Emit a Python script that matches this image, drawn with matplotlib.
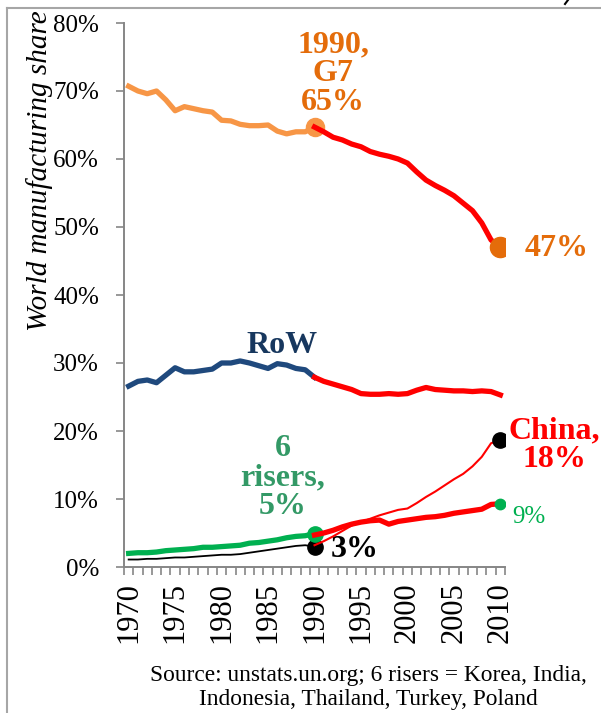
import numpy as np
import matplotlib
matplotlib.use("Agg")
import matplotlib.pyplot as plt
from matplotlib.lines import Line2D

# Data (share of world manufacturing, %)
years_pre = list(range(1970, 1991))
years_post = list(range(1990, 2011))

g7_pre = [70.7, 70.0, 69.6, 70.0, 68.7, 67.1, 67.7, 67.4, 67.1, 66.9, 65.7,
          65.6, 65.1, 64.9, 64.9, 65.0, 64.1, 63.7, 64.0, 64.0, 64.7]
g7_post = [64.7, 64.0, 63.2, 62.8, 62.2, 61.8, 61.1, 60.7, 60.4, 60.0, 59.4,
           58.1, 56.9, 56.1, 55.4, 54.6, 53.5, 52.4, 50.6, 48.1, 47.0]

row_pre = [26.6, 27.3, 27.5, 27.1, 28.2, 29.3, 28.7, 28.7, 28.9, 29.1, 30.0,
           30.0, 30.3, 30.0, 29.6, 29.2, 29.9, 29.7, 29.2, 29.0, 27.9]
row_post = [27.9, 27.3, 26.9, 26.5, 26.1, 25.5, 25.4, 25.4, 25.5, 25.4, 25.5,
            26.0, 26.4, 26.1, 26.0, 25.9, 25.9, 25.8, 25.9, 25.8, 25.3]

risers_pre = [2.0, 2.1, 2.1, 2.2, 2.4, 2.5, 2.6, 2.7, 2.9, 2.9, 3.0,
              3.1, 3.2, 3.5, 3.6, 3.8, 4.0, 4.3, 4.5, 4.6, 4.9]
risers_post = [4.7, 5.0, 5.4, 5.9, 6.3, 6.6, 6.8, 6.9, 6.3, 6.7, 6.9,
               7.1, 7.3, 7.4, 7.6, 7.9, 8.1, 8.3, 8.5, 9.2, 9.3]

china_pre = [1.1, 1.1, 1.2, 1.2, 1.3, 1.4, 1.4, 1.5, 1.6, 1.7, 1.8,
             1.8, 1.9, 2.1, 2.3, 2.5, 2.7, 2.9, 3.1, 3.2, 3.0]
china_post = [3.2, 3.8, 4.5, 5.3, 6.1, 6.6, 7.1, 7.6, 8.0, 8.4, 8.6,
              9.4, 10.3, 11.1, 12.0, 12.9, 13.7, 14.8, 16.2, 18.2, 18.7]

yticks = [0, 10, 20, 30, 40, 50, 60, 70, 80]
xticks = list(range(1970, 2011, 5))

# Colours
ORANGE_LINE = "#F79646"
ORANGE_TXT = "#E46C0A"
NAVY_LINE = "#1F497D"
NAVY_TXT = "#17375E"
GREEN_LINE = "#00B050"
GREEN_TXT = "#339966"
RED = "#FF0000"
GRAY = "#868686"

plt.rcParams['font.family'] = ['Liberation Serif', 'DejaVu Serif']

fig = plt.figure(figsize=(6.01, 7.13), dpi=100)
ax = fig.add_axes([124/601, 1-567/713, 381/601, 544/713])

# before 1990
ax.plot(years_pre, g7_pre, color=ORANGE_LINE, lw=3.8, zorder=3)
ax.plot(years_pre, row_pre, color=NAVY_LINE, lw=3.8, zorder=3)
ax.plot(years_pre, risers_pre, color=GREEN_LINE, lw=3.8, zorder=3)
ax.plot(years_pre, china_pre, color='black', lw=1.3, zorder=3)

# 1990 markers
ax.plot(1990, g7_pre[-1], 'o', color=ORANGE_LINE, ms=13, zorder=4)
ax.plot(1990, china_pre[-1], 'o', color='black', ms=11, zorder=4)
ax.plot(1990, risers_pre[-1], 'o', color=GREEN_LINE, ms=11, zorder=4)

# after 1990 (red)
ax.plot(years_post, g7_post, color=RED, lw=3.8, zorder=5)
ax.plot(years_post, row_post, color=RED, lw=3.8, zorder=5)
ax.plot(years_post, risers_post, color=RED, lw=3.8, zorder=5)
ax.plot(years_post, china_post, color=RED, lw=1.5, zorder=5)

# 2010 markers
ax.plot(2010, g7_post[-1], 'o', color=ORANGE_TXT, ms=14.5, zorder=6)
ax.plot(2010, china_post[-1], 'o', color='black', ms=11, zorder=6)
ax.plot(2010, risers_post[-1], 'o', color=GREEN_LINE, ms=7.5, zorder=6)

# Labels
bold = dict(fontweight='bold', ha='center', va='center', fontsize=23)
ax.text(1992.0, 72.5, "1990,\nG7\n65%", color=ORANGE_TXT, linespacing=1.0, **bold)
ax.text(2012.6, 46.8, "47%", color=ORANGE_TXT, fontweight='bold', fontsize=23,
        ha='left', va='center')
ax.text(1986.5, 32.6, "RoW", color=NAVY_TXT, **bold)
ax.text(1986.6, 13.1, "6\nrisers,\n5%", color=GREEN_TXT, linespacing=1.0, **bold)
ax.text(2015.8, 17.9, "China,\n18%", color=RED, linespacing=1.0, **bold)
ax.text(1994.3, 2.6, "3%", color='black', **bold)
ax.text(2013.1, 7.4, "9%", color=GREEN_LINE, fontsize=18, ha='center', va='center')

# Axes styling
ax.set_xlim(1969.5, 2010.5)
ax.set_ylim(0, 80)
ax.set_yticks(yticks)
ax.set_yticklabels([f"{v}%" for v in yticks])
ax.set_xticks(xticks)
ax.set_xticklabels([str(v) for v in xticks], rotation=90)
ax.set_xticks(np.arange(1969.5, 2011, 1.0), minor=True)
ax.tick_params(axis='x', which='major', length=0, pad=11, labelsize=22)
ax.tick_params(axis='x', which='minor', length=6, width=1.2, color=GRAY, direction='out')
ax.tick_params(axis='y', length=6, width=1.2, color=GRAY, pad=12, labelsize=18)
for s in ['top', 'right']:
    ax.spines[s].set_visible(False)
for s in ['left', 'bottom']:
    ax.spines[s].set_color(GRAY)
    ax.spines[s].set_linewidth(1.4)
ax.patch.set_visible(False)

fig.text(40/601, 1-171/713, "World manufacturing share", rotation=90,
         style='italic', fontsize=21, ha='center', va='center')

fig.text(368/601, 1-675/713, "Source: unstats.un.org; 6 risers = Korea, India,",
         fontsize=16.8, ha='center', va='center')
fig.text(368/601, 1-700/713, "Indonesia, Thailand, Turkey, Poland",
         fontsize=16.8, ha='center', va='center')

# frame lines of the slide
fig.add_artist(Line2D([7/601, 7/601], [0, 1-8/713], color='#A6A6A6', lw=1.5,
                      transform=fig.transFigure))
fig.add_artist(Line2D([7/601, 1], [1-8/713, 1-8/713], color='#A6A6A6', lw=1.5,
                      transform=fig.transFigure))
# tail of a cut-off glyph at the top edge
fig.add_artist(Line2D([568/601, 565/601], [1, 1-4/713], color='black', lw=1.5,
                      transform=fig.transFigure))

fig.savefig("out.png", dpi=100)
